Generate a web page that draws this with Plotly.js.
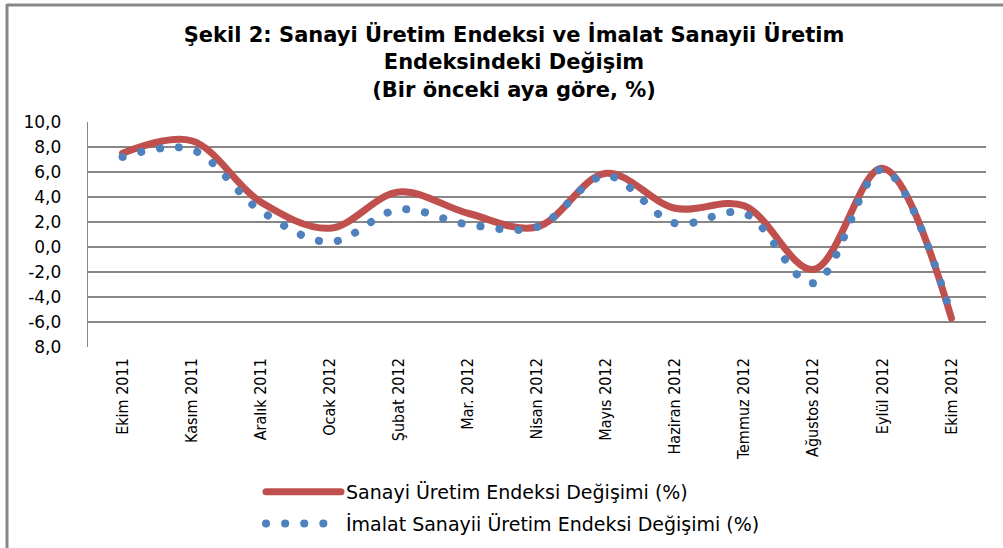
<!DOCTYPE html>
<html>
<head>
<meta charset="utf-8">
<script src="https://cdn.plot.ly/plotly-3.0.1.min.js"></script>
<style>
  html, body { margin: 0; padding: 0; background: #fff; }
  #chart { width: 1003px; height: 548px; }
  .js-line { stroke-linecap: round; }
</style>
</head>
<body>
<div id="chart"></div>
<script>
const categories = ['Ekim 2011','Kasım 2011','Aralık 2011','Ocak 2012','Şubat 2012','Mar. 2012','Nisan 2012','Mayıs 2012','Haziran 2012','Temmuz 2012','Ağustos 2012','Eylül 2012','Ekim 2012'];
const sanayi = [7.5, 8.5, 3.6, 1.5, 4.4, 2.7, 1.6, 5.9, 3.1, 3.3, -1.8, 6.3, -5.7];
const imalat = [7.2, 7.8, 2.9, 0.4, 3.0, 1.8, 1.6, 5.7, 1.9, 2.7, -2.9, 6.2, -5.5];
const yTickVals = [-8, -6, -4, -2, 0, 2, 4, 6, 8, 10];
const yTickText = ['8,0', '-6,0', '-4,0', '-2,0', '0,0', '2,0', '4,0', '6,0', '8,0', '10,0'];
const seriesNames = ['Sanayi Üretim Endeksi Değişimi (%)', 'İmalat Sanayii Üretim Endeksi Değişimi (%)'];
const titleText = 'Şekil 2: Sanayi Üretim Endeksi ve İmalat Sanayii Üretim<br>Endeksindeki Değişim<br>(Bir önceki aya göre, %)';

const traces = [
  {
    x: categories, y: sanayi, name: seriesNames[0], type: 'scatter', mode: 'lines',
    line: { color: '#C0504D', width: 7, shape: 'spline', smoothing: 1 },
    legendgroup: 'a'
  },
  {
    x: categories, y: imalat, name: seriesNames[1], type: 'scatter', mode: 'lines',
    line: { color: '#4F81BD', width: 8, shape: 'spline', smoothing: 1, dash: '0.1px,19px' },
    legendgroup: 'b'
  }
];

const layout = {
  width: 1003, height: 548,
  margin: { l: 88, r: 17, t: 122, b: 201, autoexpand: false },
  paper_bgcolor: '#fff', plot_bgcolor: '#fff',
  title: {
    text: titleText,
    font: { family: 'DejaVu Sans, sans-serif', size: 21, color: '#000', weight: 'bold' },
    x: 0.5125, xanchor: 'center', xref: 'container',
    y: 1 - 42 / 548, yanchor: 'middle', yref: 'container'
  },
  xaxis: {
    type: 'category', showgrid: false, zeroline: false, showline: false,
    ticks: '', tickangle: -90, ticklabelstandoff: 7,
    tickfont: { family: 'Liberation Sans Narrow, DejaVu Sans Condensed, Roboto Condensed, sans-serif', size: 16, color: '#000' },
    range: [-0.5, 12.5], fixedrange: true
  },
  yaxis: {
    range: [-8, 10], tickvals: yTickVals, ticktext: yTickText,
    showgrid: true, gridcolor: '#878787', gridwidth: 1.3,
    zeroline: false, showline: true, linecolor: '#878787', linewidth: 1.3,
    ticks: '', ticklabelstandoff: 22,
    tickfont: { family: 'DejaVu Sans, sans-serif', size: 17, color: '#000' },
    fixedrange: true
  },
  showlegend: true,
  legend: {
    orientation: 'v', xref: 'container', yref: 'container',
    x: 261 / 1003, xanchor: 'left', y: 1 - 473 / 548, yanchor: 'top',
    font: { family: 'DejaVu Sans, sans-serif', size: 19, color: '#000' },
    itemwidth: 75, tracegroupgap: 4, bgcolor: 'rgba(0,0,0,0)'
  },
  shapes: [
    { type: 'line', xref: 'paper', yref: 'paper', x0: (7 - 88) / 898, x1: (7 - 88) / 898, y0: 1 + (122 - 4) / 225, y1: (347 - 560) / 225, line: { color: '#888', width: 3 } },
    { type: 'line', xref: 'paper', yref: 'paper', x0: (7 - 88) / 898, x1: (1010 - 88) / 898, y0: 1 + (122 - 5) / 225, y1: 1 + (122 - 5) / 225, line: { color: '#888', width: 3 } }
  ]
};

Plotly.newPlot('chart', traces, layout, { displayModeBar: false, staticPlot: true });
</script>
</body>
</html>
